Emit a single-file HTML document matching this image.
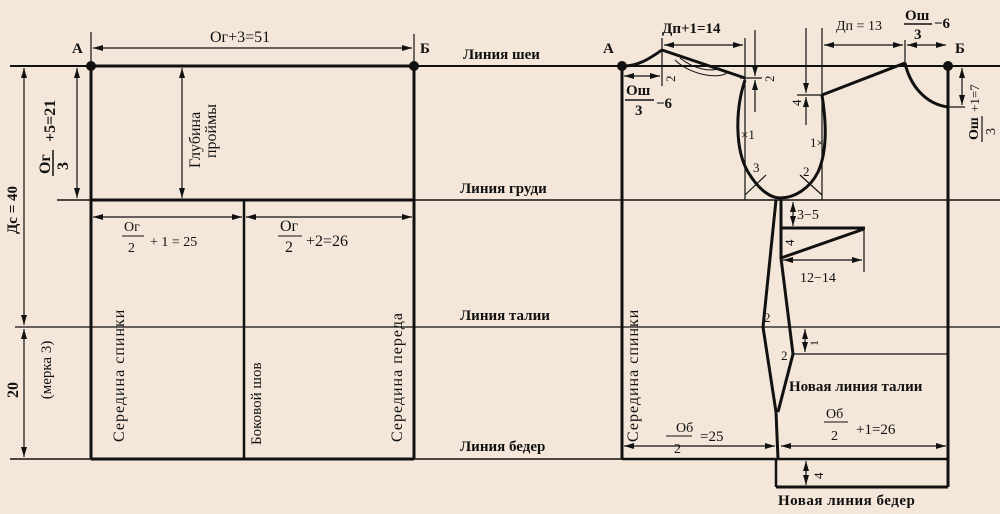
<!DOCTYPE html>
<html><head><meta charset="utf-8"><style>
html,body{margin:0;padding:0;background:#f4e7da;}
svg{display:block;}
text{font-family:"Liberation Serif",serif;fill:#111;}
</style></head><body>
<svg width="1000" height="514" viewBox="0 0 1000 514" xmlns="http://www.w3.org/2000/svg">
<defs>
<marker id="a" viewBox="0 0 10 6" refX="10" refY="3" markerWidth="10" markerHeight="6" orient="auto-start-reverse" markerUnits="userSpaceOnUse"><path d="M0,0 L10,3 L0,6 z" fill="#111"/></marker>
</defs>
<rect width="1000" height="514" fill="#f4e7da"/>
<g stroke="#111" fill="none">
<line x1="10" y1="66" x2="1000" y2="66" stroke-width="2"/>
<line x1="57" y1="200" x2="1000" y2="200" stroke-width="1.5"/>
<line x1="15" y1="327" x2="1000" y2="327" stroke-width="1.2"/>
<line x1="10" y1="459" x2="622" y2="459" stroke-width="1.5"/>
<line x1="91" y1="66" x2="414" y2="66" stroke-width="3"/>
<line x1="91" y1="200" x2="414" y2="200" stroke-width="3"/>
<line x1="91" y1="459" x2="414" y2="459" stroke-width="3"/>
<line x1="91" y1="66" x2="91" y2="459" stroke-width="3"/>
<line x1="414" y1="66" x2="414" y2="459" stroke-width="3"/>
<line x1="244" y1="200" x2="244" y2="459" stroke-width="2.5"/>
<line x1="91" y1="32" x2="91" y2="66" stroke-width="1.2"/>
<line x1="414" y1="34" x2="414" y2="66" stroke-width="1.2"/>
<line x1="93" y1="48" x2="412" y2="48" stroke-width="1.2" marker-start="url(#a)" marker-end="url(#a)"/>
<line x1="24" y1="68" x2="24" y2="325" stroke-width="1.2" marker-start="url(#a)" marker-end="url(#a)"/>
<line x1="24" y1="329" x2="24" y2="457" stroke-width="1.2" marker-start="url(#a)" marker-end="url(#a)"/>
<line x1="77" y1="68" x2="77" y2="198" stroke-width="1.2" marker-start="url(#a)" marker-end="url(#a)"/>
<line x1="182" y1="68" x2="182" y2="198" stroke-width="1.2" marker-start="url(#a)" marker-end="url(#a)"/>
<line x1="93" y1="217" x2="242" y2="217" stroke-width="1.2" marker-start="url(#a)" marker-end="url(#a)"/>
<line x1="246" y1="217" x2="412" y2="217" stroke-width="1.2" marker-start="url(#a)" marker-end="url(#a)"/>
<line x1="622" y1="66" x2="622" y2="459" stroke-width="3"/>
<line x1="948" y1="66" x2="948" y2="487" stroke-width="3"/>
<line x1="622" y1="459" x2="948" y2="459" stroke-width="2.5"/>
<line x1="776" y1="487" x2="948" y2="487" stroke-width="3"/>
<line x1="776" y1="459" x2="776" y2="487" stroke-width="2.5"/>
<line x1="793" y1="354" x2="948" y2="354" stroke-width="1.2"/>
<path d="M622,66 C640,66 650,58 662,50" stroke-width="3"/>
<line x1="662" y1="50" x2="745" y2="78" stroke-width="3"/>
<path d="M675,60 C690,75 720,80 728,72 M680,58 C695,70 712,72 720,68" stroke-width="1"/>
<line x1="662" y1="38" x2="662" y2="86" stroke-width="1.2"/>
<line x1="745" y1="38" x2="745" y2="200" stroke-width="1.2"/>
<line x1="822" y1="28" x2="822" y2="200" stroke-width="1.2"/>
<line x1="905" y1="40" x2="905" y2="63" stroke-width="1.2"/>
<line x1="664" y1="45" x2="743" y2="45" stroke-width="1.2" marker-start="url(#a)" marker-end="url(#a)"/>
<line x1="824" y1="45" x2="903" y2="45" stroke-width="1.2" marker-start="url(#a)" marker-end="url(#a)"/>
<line x1="907" y1="45" x2="946" y2="45" stroke-width="1.2" marker-start="url(#a)" marker-end="url(#a)"/>
<line x1="624" y1="76" x2="660" y2="76" stroke-width="1.2" marker-start="url(#a)" marker-end="url(#a)"/>
<path d="M745,80 C735,110 735,150 748,172 C760,192 772,198 780,198 C795,198 810,188 818,172 C828,150 826,120 822,95" stroke-width="3"/>
<line x1="740" y1="78" x2="762" y2="78" stroke-width="1.2"/>
<line x1="755" y1="30" x2="755" y2="76" stroke-width="1.2" marker-end="url(#a)"/>
<line x1="755" y1="112" x2="755" y2="80" stroke-width="1.2" marker-end="url(#a)"/>
<line x1="797" y1="95" x2="822" y2="95" stroke-width="1.2"/>
<line x1="806" y1="28" x2="806" y2="93" stroke-width="1.2" marker-end="url(#a)"/>
<line x1="806" y1="125" x2="806" y2="97" stroke-width="1.2" marker-end="url(#a)"/>
<line x1="745" y1="195" x2="766" y2="175" stroke-width="1.2"/>
<line x1="822" y1="195" x2="800" y2="175" stroke-width="1.2"/>
<line x1="822" y1="95" x2="905" y2="63" stroke-width="3"/>
<path d="M905,63 C910,85 925,104 948,107" stroke-width="3"/>
<line x1="948" y1="107" x2="965" y2="107" stroke-width="1.2"/>
<line x1="962" y1="68" x2="962" y2="105" stroke-width="1.2" marker-start="url(#a)" marker-end="url(#a)"/>
<polyline points="776,200 763,327 776,412 778,459" stroke-width="3"/>
<polyline points="781,200 781,258 793,354 778,412" stroke-width="3"/>
<line x1="780" y1="228" x2="865" y2="228" stroke-width="3"/>
<line x1="781" y1="258" x2="864" y2="229" stroke-width="3"/>
<line x1="864" y1="228" x2="864" y2="272" stroke-width="1.2"/>
<line x1="783" y1="260" x2="862" y2="260" stroke-width="1.2" marker-start="url(#a)" marker-end="url(#a)"/>
<line x1="793" y1="202" x2="793" y2="226" stroke-width="1.2" marker-start="url(#a)" marker-end="url(#a)"/>
<line x1="805" y1="329" x2="805" y2="352" stroke-width="1.2" marker-start="url(#a)" marker-end="url(#a)"/>
<line x1="624" y1="446" x2="775" y2="446" stroke-width="1.2" marker-start="url(#a)" marker-end="url(#a)"/>
<line x1="781" y1="446" x2="946" y2="446" stroke-width="1.2" marker-start="url(#a)" marker-end="url(#a)"/>
<line x1="806" y1="461" x2="806" y2="485" stroke-width="1.2" marker-start="url(#a)" marker-end="url(#a)"/>
</g>
<g fill="#111">
<circle cx="91" cy="66" r="5"/><circle cx="414" cy="66" r="5"/>
<circle cx="622" cy="66" r="5"/><circle cx="948" cy="66" r="5"/>
</g>
<g font-size="15" font-weight="bold">
<text x="72" y="53">А</text><text x="420" y="53">Б</text>
<text x="603" y="53">А</text><text x="955" y="53">Б</text>
</g>
<g font-size="16">
<text x="210" y="42">Ог+3=51</text>
<text x="463" y="59" font-size="15" font-weight="bold">Линия шеи</text>
<text x="460" y="193" font-size="15" font-weight="bold">Линия груди</text>
<text x="460" y="320" font-size="15" font-weight="bold">Линия талии</text>
<text x="460" y="451" font-size="15" font-weight="bold">Линия бедер</text>
<text x="124" y="231" font-size="14">Ог</text><line x1="122" y1="236" x2="144" y2="236" stroke="#111"/>
<text x="128" y="252" font-size="14">2</text><text x="150" y="246" font-size="14">+ 1 =  25</text>
<text x="280" y="231">Ог</text><line x1="278" y1="236" x2="302" y2="236" stroke="#111"/>
<text x="285" y="252">2</text><text x="306" y="246">+2=26</text>
</g>
<g font-size="15">
<text transform="translate(17,210) rotate(-90)" text-anchor="middle" font-weight="bold">Дс = 40</text>
<text transform="translate(18,390) rotate(-90)" text-anchor="middle" font-weight="bold" font-size="16">20</text>
<text transform="translate(51,370) rotate(-90)" text-anchor="middle">(мерка 3)</text>
<text transform="translate(55,142) rotate(-90)" font-weight="bold" font-size="16">+5=21</text>
<text transform="translate(50,174) rotate(-90)" font-weight="bold" font-size="16">Ог</text>
<line x1="53" y1="176" x2="53" y2="150" stroke="#111" stroke-width="1.5"/>
<text transform="translate(68,170) rotate(-90)" font-weight="bold" font-size="16">3</text>
<text transform="translate(200,168) rotate(-90)" font-size="16">Глубина</text>
<text transform="translate(216,158) rotate(-90)" font-size="16">проймы</text>
<text transform="translate(124,442) rotate(-90)" font-size="16" letter-spacing="1">Середина спинки</text>
<text transform="translate(261,445) rotate(-90)" font-size="15">Боковой шов</text>
<text transform="translate(402,442) rotate(-90)" font-size="16" letter-spacing="1">Середина переда</text>
<text transform="translate(638,442) rotate(-90)" font-size="16" letter-spacing="1">Середина спинки</text>
</g>
<g font-size="15">
<text x="662" y="33" font-weight="bold">Дп+1=14</text>
<text x="836" y="30" font-size="14">Дп = 13</text>
<text x="905" y="20" font-weight="bold">Ош</text><line x1="904" y1="24" x2="932" y2="24" stroke="#111" stroke-width="1.5"/>
<text x="914" y="39" font-weight="bold">3</text><text x="934" y="28" font-weight="bold">−6</text>
<text x="626" y="95" font-weight="bold">Ош</text><line x1="625" y1="100" x2="654" y2="100" stroke="#111" stroke-width="1.5"/>
<text x="635" y="115" font-weight="bold">3</text><text x="656" y="108" font-weight="bold">−6</text>
<text transform="translate(675,82) rotate(-90)" font-size="13">2</text>
<text transform="translate(774,82) rotate(-90)" font-size="13">2</text>
<text transform="translate(801,106) rotate(-90)" font-size="13">4</text>
<text transform="translate(979,112) rotate(-90)" font-size="13">+1=7</text>
<text transform="translate(978,140) rotate(-90)" font-size="14" font-weight="bold">Ош</text>
<line x1="982" y1="142" x2="982" y2="116" stroke="#111" stroke-width="1.2"/>
<text transform="translate(995,135) rotate(-90)" font-size="14">3</text>
<text x="741" y="139" font-size="13">×1</text><text x="810" y="147" font-size="13">1×</text>
<text x="753" y="172" font-size="13">3</text><text x="803" y="176" font-size="13">2</text>
<text x="797" y="219" font-size="14">3−5</text>
<text transform="translate(794,246) rotate(-90)" font-size="13">4</text>
<text x="800" y="282" font-size="14">12−14</text>
<text x="764" y="322" font-size="13">2</text>
<text x="781" y="360" font-size="13">2</text>
<text transform="translate(818,346) rotate(-90)" font-size="12">1</text>
<text x="789" y="391" font-weight="bold" font-size="15">Новая линия талии</text>
<text x="826" y="418" font-size="14">Об</text><line x1="824" y1="422" x2="848" y2="422" stroke="#111"/>
<text x="831" y="440" font-size="14">2</text><text x="856" y="434" font-size="15">+1=26</text>
<text x="676" y="432" font-size="14">Об</text><line x1="666" y1="436" x2="692" y2="436" stroke="#111"/>
<text x="674" y="453" font-size="14">2</text><text x="700" y="441" font-size="15">=25</text>
<text transform="translate(823,479) rotate(-90)" font-size="13">4</text>
<text x="778" y="505" font-weight="bold" font-size="15" letter-spacing="0.5">Новая линия бедер</text>
</g>
</svg>
</body></html>
